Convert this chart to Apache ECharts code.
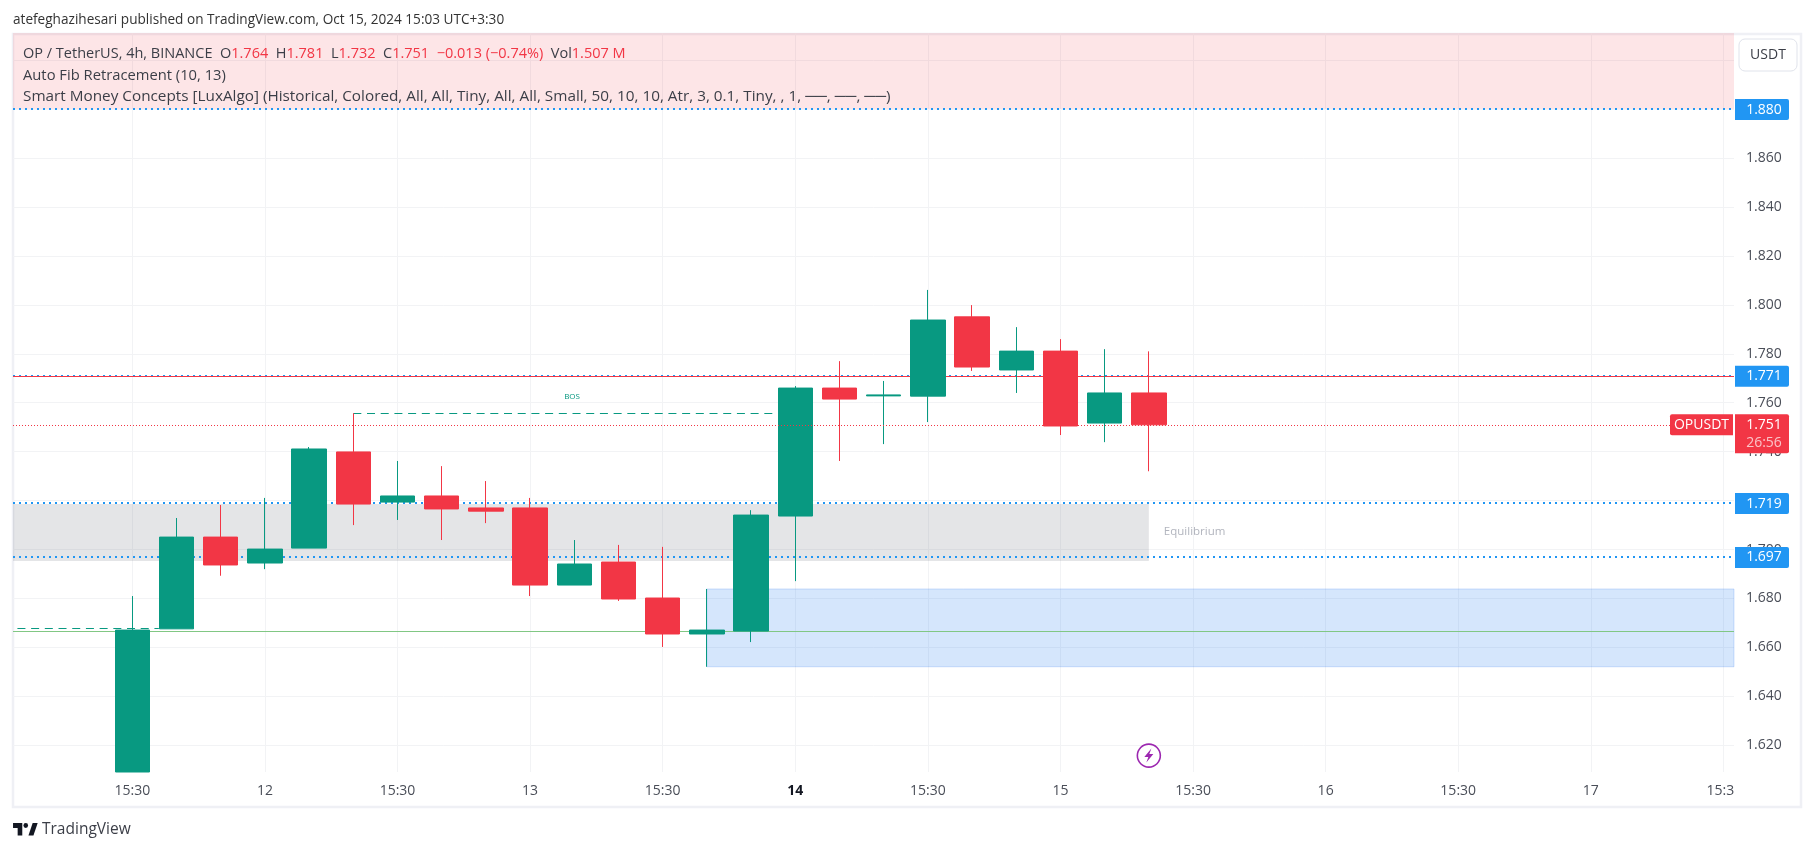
<!DOCTYPE html>
<html>
<head>
<meta charset="utf-8">
<style>html,body{margin:0;padding:0;background:#fff}#c{width:1814px;height:851px}</style>
<script src="https://cdn.jsdelivr.net/npm/echarts@6/dist/echarts.min.js"></script>
</head>
<body>
<div id="c"></div>
<script>
// bar index, open, close, low, high (first bar's open and low run off the bottom of the chart)
var bars = [
 [0,1.6091,1.6671,1.6091,1.6810],
 [1,1.6676,1.7051,1.6676,1.7129],
 [2,1.7051,1.6937,1.6893,1.7182],
 [3,1.6945,1.7002,1.6920,1.7211],
 [4,1.7006,1.7411,1.7006,1.7419],
 [5,1.7399,1.7186,1.7100,1.7557],
 [6,1.7194,1.7219,1.7121,1.7362],
 [7,1.7219,1.7166,1.7039,1.7341],
 [8,1.7170,1.7157,1.7108,1.7280],
 [9,1.7170,1.6855,1.6810,1.7211],
 [10,1.6855,1.6941,1.6855,1.7039],
 [11,1.6949,1.6798,1.6790,1.7019],
 [12,1.6802,1.6655,1.6602,1.7011],
 [13,1.6655,1.6671,1.6521,1.6839],
 [14,1.6667,1.7141,1.6622,1.7161],
 [15,1.7137,1.7660,1.6871,1.7668],
 [16,1.7660,1.7615,1.7362,1.7770],
 [17,1.7628,1.7632,1.7431,1.7689],
 [18,1.7627,1.7938,1.7521,1.8061],
 [19,1.7951,1.7746,1.7730,1.7999],
 [20,1.7734,1.7811,1.7640,1.7909],
 [21,1.7811,1.7505,1.7468,1.7860],
 [22,1.7517,1.7640,1.7439,1.7819],
 [23,1.764,1.751,1.732,1.781]
];
var xTickIndex = [0,3,6,9,12,15,18,21,24,27,30,33,36];
var xTickLabels = ['15:30','12','15:30','13','15:30','14','15:30','15','15:30','16','15:30','17','15:3'];
var yGrid = [1.62,1.64,1.66,1.68,1.70,1.72,1.74,1.76,1.78,1.80,1.82,1.84,1.86,1.88,1.90];
var yLabels = [1.62,1.64,1.66,1.68,1.70,1.72,1.74,1.76,1.78,1.80,1.82,1.84,1.86];
var fibLevels = [1.880,1.771,1.719,1.697];
var lastPrice = 1.751;
var countdown = '26:56';
var symbolName = 'OPUSDT';
var pinkZone = [1.88,1.9111];
var grayZone = [1.6953,1.7186];
var grayZoneEnd = 23;
var blueZone = [1.6521,1.6839];
var blueZoneStart = 13;
var greenLevel = 1.6666;
var redLevel = 1.7708;
var bosUpper = [5,14.55,1.7557];
var bosLower = [-2.6,0.6,1.6678];
var xMin = -2.7, xMax = 36.24, yMin = 1.6091, yMax = 1.9111;

var FONT = '"Open Sans","Noto Sans",sans-serif';
var GREEN='#089981', RED='#F23645', BLUE='#2196F3', GRID='#F2F3F5';

function seg(a,b,y,color,type,w){return [{coord:[a,y],lineStyle:{color:color,type:type,width:w}},{coord:[b,y]}];}
function full(y,color,type,w){return seg(xMin,xMax,y,color,type,w);}

var chart = echarts.init(document.getElementById('c'),null,{renderer:'canvas'});
chart.setOption({
 animation:false,
 backgroundColor:'#fff',
 textStyle:{fontFamily:FONT},
 grid:{left:13,right:80,top:33,bottom:79,containLabel:false},
 xAxis:{type:'value',min:xMin,max:xMax,
  axisLine:{show:false},axisTick:{show:false,customValues:xTickIndex},
  splitLine:{show:true,customValues:xTickIndex,lineStyle:{color:GRID,width:1}},
  axisLabel:{customValues:xTickIndex,margin:12,color:'#4A4E58',fontSize:14,fontFamily:FONT,hideOverlap:false,
   formatter:function(v){var l=xTickLabels[xTickIndex.indexOf(Math.round(v))];
     if(l==='14')return '{b|14}'; if(l==='15:3')return '{c|15:3}'; return l;},
   rich:{b:{fontWeight:'bold',color:'#131722',fontSize:14,fontFamily:FONT},c:{color:'#4A4E58',fontSize:14,fontFamily:FONT,padding:[0,6,0,0]}}}},
 yAxis:{type:'value',position:'right',min:yMin,max:yMax,
  axisLine:{show:false},axisTick:{show:false,customValues:yGrid},
  splitLine:{show:true,customValues:yGrid,lineStyle:{color:GRID,width:1}},
  axisLabel:{customValues:yLabels,margin:12,color:'#4A4E58',fontSize:14,fontFamily:FONT,padding:[6,0,0,0],
   formatter:function(v){return v.toFixed(3);}}},
 series:[
  {type:'line',name:'zones',data:[],z:1,silent:true,
   markArea:{silent:true,z:1,data:[
    [{coord:[xMin,pinkZone[0]],itemStyle:{color:'rgba(242,54,69,0.13)'}},{coord:[xMax,pinkZone[1]]}],
    [{coord:[xMin,grayZone[0]],itemStyle:{color:'rgba(120,123,134,0.2)'}},{coord:[grayZoneEnd,grayZone[1]]}],
    [{coord:[blueZoneStart,blueZone[0]],itemStyle:{color:'rgba(33,120,240,0.19)',borderColor:'rgba(33,110,240,0.2)',borderWidth:1}},{coord:[xMax,blueZone[1]]}]
   ]},
   markLine:{silent:true,z:1,symbol:'none',label:{show:false},data:[
    full(fibLevels[0],BLUE,[2,4],2),full(fibLevels[1],BLUE,[2,4],2),full(fibLevels[2],BLUE,[2,4],2),full(fibLevels[3],BLUE,[2,4],2),
    full(redLevel,RED,'solid',1),full(greenLevel,'#81C784','solid',1.2),
    seg(bosUpper[0],bosUpper[1],bosUpper[2],GREEN,[8,5.7],1.2),seg(bosLower[0],bosLower[1],bosLower[2],GREEN,[8,5.7],1.2)
   ]}},
  {type:'candlestick',name:'OP / TetherUS',z:3,barWidth:35,silent:true,
   encode:{x:0,y:[1,2,3,4]},data:bars,
   itemStyle:{color:GREEN,color0:RED,borderColor:GREEN,borderColor0:RED,borderWidth:1}},
  {type:'line',name:'last',data:[],z:4,silent:true,
   markLine:{silent:true,z:4,symbol:'none',label:{show:false},data:[full(lastPrice,RED,[1,2],1)]}},
  {type:'custom',name:'notes',z:5,silent:true,clip:false,coordinateSystem:'cartesian2d',
   data:[[9.95,1.7623,'BOS'],[23.34,1.7072,'Equilibrium']],encode:{x:0,y:1},
   renderItem:function(p,api){var c=api.coord([api.value(0),api.value(1)]);var t=api.value(2);
    return {type:'text',x:c[0],y:c[1],style:t==='BOS'
      ?{text:'BOS',fill:GREEN,font:'8px '+FONT,textAlign:'center',textVerticalAlign:'middle'}
      :{text:'Equilibrium',fill:'#B2B5BE',font:'11.5px '+FONT,textAlign:'left',textVerticalAlign:'middle'}};}},
  {type:'custom',name:'tags',z:20,silent:true,clip:false,coordinateSystem:'cartesian2d',
   data:fibLevels.map(function(v){return [xMax,v];}),encode:{x:0,y:1},
   renderItem:function(p,api){var c=api.coord([api.value(0),api.value(1)]);
    return {type:'group',children:[
     {type:'rect',shape:{x:c[0]+1,y:c[1]-10,width:54,height:21,r:[0,2,2,0]},style:{fill:BLUE}},
     {type:'text',x:c[0]+30,y:c[1]+0.5,style:{text:api.value(1).toFixed(3),fill:'#fff',font:'14px '+FONT,textAlign:'center',textVerticalAlign:'middle'}}]};}},
  {type:'custom',name:'lastTag',z:21,silent:true,clip:false,coordinateSystem:'cartesian2d',
   data:[[xMax,lastPrice]],encode:{x:0,y:1},
   renderItem:function(p,api){var c=api.coord([api.value(0),api.value(1)]);
    return {type:'group',children:[
     {type:'rect',shape:{x:c[0]-64,y:c[1]-10.5,width:63,height:21,r:[2,0,0,2]},style:{fill:RED}},
     {type:'text',x:c[0]-32.5,y:c[1]+0.5,style:{text:symbolName,fill:'#fff',font:'14px '+FONT,textAlign:'center',textVerticalAlign:'middle'}},
     {type:'rect',shape:{x:c[0]+1,y:c[1]-10.5,width:54,height:39,r:[0,2,2,0]},style:{fill:RED}},
     {type:'text',x:c[0]+30,y:c[1]+0.5,style:{text:lastPrice.toFixed(3),fill:'#fff',font:'14px '+FONT,textAlign:'center',textVerticalAlign:'middle'}},
     {type:'text',x:c[0]+30,y:c[1]+18,style:{text:countdown,fill:'rgba(255,255,255,0.7)',font:'14px '+FONT,textAlign:'center',textVerticalAlign:'middle'}}]};}},
  {type:'custom',name:'flash',z:6,silent:true,clip:false,coordinateSystem:'cartesian2d',
   data:[[23,1.6158]],encode:{x:0,y:1},
   renderItem:function(p,api){var c=api.coord([api.value(0),api.value(1)]);
    return {type:'group',x:c[0],y:c[1],children:[
     {type:'circle',shape:{cx:0,cy:0,r:11.5},style:{fill:'#fff',stroke:'#9C27B0',lineWidth:1.6}},
     {type:'polygon',shape:{points:[[2.5,-7],[-4.5,1.5],[-0.5,1.5],[-2.5,7],[4.5,-1.5],[0.5,-1.5]]},style:{fill:'#9C27B0'}}]};}}
 ],
 graphic:[
  {type:'rect',z:0,silent:true,shape:{x:13,y:34,width:1788,height:773},style:{fill:'none',stroke:'#EFF0F5',lineWidth:2.5}},
  {type:'text',x:13,y:13,style:{text:'atefeghazihesari published on TradingView.com, Oct 15, 2024 15:03 UTC+3:30',fill:'#333',font:'13.6px '+FONT}},
  {type:'text',x:23,y:54.3,z:30,style:{fill:'#3B3E47',font:'14.5px '+FONT,textVerticalAlign:'middle',
   text:'OP / TetherUS, 4h, BINANCE  O{r|1.764}  H{r|1.781}  L{r|1.732}  C{r|1.751}  {r|−0.013 (−0.74%)}  Vol{r|1.507 M}',
   rich:{r:{fill:RED,font:'14.5px '+FONT}}}},
  {type:'text',x:23,y:76,z:30,style:{fill:'#3B3E47',font:'14.75px '+FONT,textVerticalAlign:'middle',text:'Auto Fib Retracement (10, 13)'}},
  {type:'text',x:23,y:97,z:30,style:{fill:'#3B3E47',font:'15.3px '+FONT,textVerticalAlign:'middle',
   text:'Smart Money Concepts [LuxAlgo] (Historical, Colored, All, All, Tiny, All, All, Small, 50, 10, 10, Atr, 3, 0.1, Tiny, , 1, ──, ──, ──)'}},
  {type:'group',z:30,children:[
   {type:'rect',shape:{x:1739,y:39,width:58,height:32,r:6},style:{fill:'#fff',stroke:'#E0E3EB',lineWidth:1}},
   {type:'text',x:1768,y:55,style:{text:'USDT',fill:'#3B3E47',font:'14px '+FONT,textAlign:'center',textVerticalAlign:'middle'}}]},
  {type:'group',z:30,x:11.5,y:818,scaleX:0.77,scaleY:0.83,children:[
   {type:'polygon',shape:{points:[[14,6],[2,6],[2,12],[8,12],[8,21],[14,21]]},style:{fill:'#131722'}},
   {type:'polygon',shape:{points:[[22,21],[27.5,6],[34,6],[28.5,21]]},style:{fill:'#131722'}},
   {type:'circle',shape:{cx:18.5,cy:9,r:3},style:{fill:'#131722'}}]},
  {type:'text',x:42,y:822,z:30,style:{text:'TradingView',fill:'#3B3E47',font:'15.5px '+FONT}}
 ]
});
</script>
</body>
</html>
